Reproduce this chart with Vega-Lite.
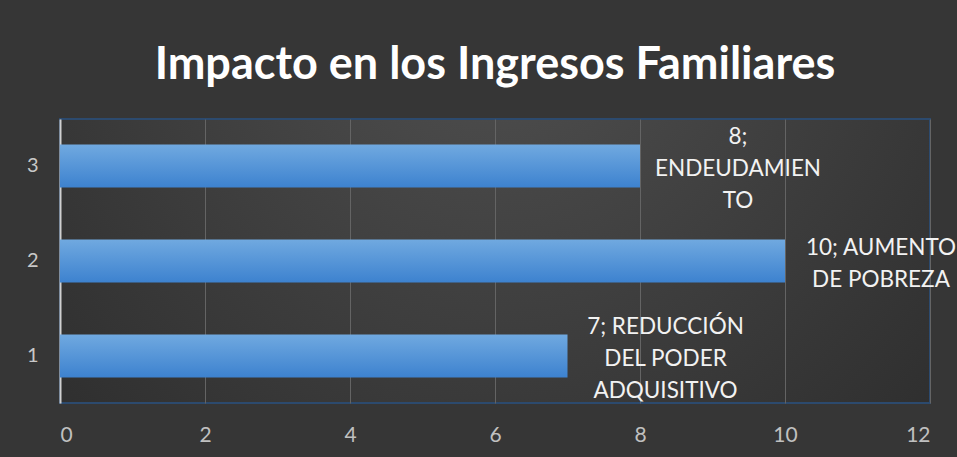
{
  "$schema": "https://vega.github.io/schema/vega-lite/v6.json",
  "width": 870,
  "height": 284,
  "autosize": {"type": "none"},
  "padding": {"left": 60, "top": 119, "right": 27, "bottom": 54},
  "background": "#363636",
  "title": {
    "text": "Impacto en los Ingresos Familiares",
    "font": "Lato",
    "fontSize": 45,
    "fontWeight": "bold",
    "color": "#ffffff",
    "anchor": "middle",
    "offset": 31
  },
  "data": {
    "values": [
      {"cat": "1", "value": 7, "lines": 3, "label": "7; REDUCCIÓN\nDEL PODER\nADQUISITIVO"},
      {"cat": "2", "value": 10, "lines": 2, "label": "10; AUMENTO\nDE POBREZA"},
      {"cat": "3", "value": 8, "lines": 3, "label": "8;\nENDEUDAMIEN\nTO"}
    ]
  },
  "encoding": {
    "y": {
      "field": "cat",
      "type": "ordinal",
      "sort": "descending",
      "scale": {"paddingInner": 0.547, "paddingOuter": 0.27},
      "axis": {
        "title": null,
        "labelAngle": 0,
        "ticks": false,
        "domain": true,
        "domainColor": "#d0d0d0",
        "domainWidth": 2,
        "labelColor": "#c8c8c8",
        "labelFont": "Lato",
        "labelFontSize": 20,
        "labelPadding": 22,
        "grid": false
      }
    },
    "x": {
      "field": "value",
      "type": "quantitative",
      "scale": {"domain": [0, 12]},
      "axis": {
        "title": null,
        "values": [0, 2, 4, 6, 8, 10, 12],
        "grid": true,
        "gridColor": "#646464",
        "gridWidth": 1,
        "domain": false,
        "ticks": false,
        "labelColor": "#c0c0c0",
        "labelFont": "Lato",
        "labelFontSize": 21,
        "labelPadding": 21
      }
    }
  },
  "layer": [
    {
      "mark": {
        "type": "bar",
        "fill": {
          "gradient": "linear",
          "x1": 0, "y1": 0, "x2": 0, "y2": 1,
          "stops": [
            {"offset": 0, "color": "#70a9e0"},
            {"offset": 1, "color": "#3d82cf"}
          ]
        }
      }
    },
    {
      "transform": [{"filter": "datum.lines == 3"}],
      "mark": {
        "type": "text",
        "align": "center",
        "baseline": "middle",
        "dx": 98,
        "dy": -29,
        "font": "Lato",
        "fontSize": 22.5,
        "lineHeight": 32,
        "lineBreak": "\n",
        "color": "#f2f2f2"
      },
      "encoding": {"text": {"field": "label"}}
    },
    {
      "transform": [{"filter": "datum.lines == 2"}],
      "mark": {
        "type": "text",
        "align": "center",
        "baseline": "middle",
        "dx": 96,
        "dy": -13,
        "font": "Lato",
        "fontSize": 22.5,
        "lineHeight": 32,
        "lineBreak": "\n",
        "color": "#f2f2f2"
      },
      "encoding": {"text": {"field": "label"}}
    }
  ],
  "config": {
    "view": {
      "stroke": "#2c4a6e",
      "strokeWidth": 2,
      "fill": {
        "gradient": "radial",
        "x1": 0.5, "y1": 0.2, "r1": 0,
        "x2": 0.5, "y2": 0.2, "r2": 0.75,
        "stops": [
          {"offset": 0, "color": "#505050"},
          {"offset": 1, "color": "#2c2c2c"}
        ]
      }
    }
  }
}
